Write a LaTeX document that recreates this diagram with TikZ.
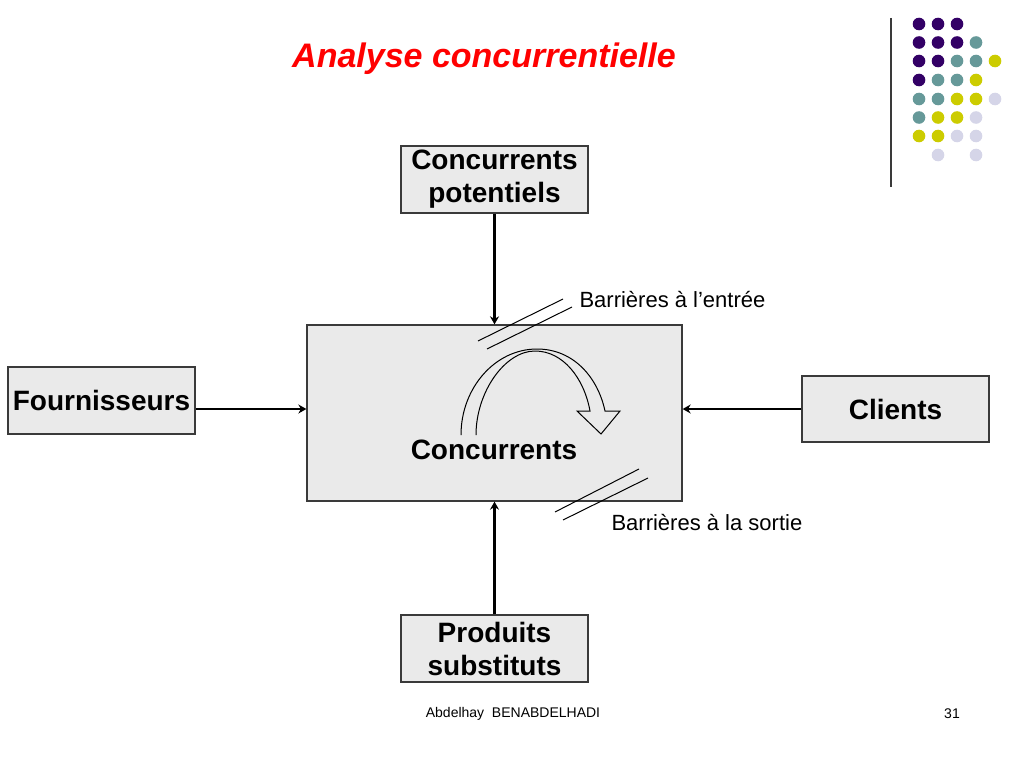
\documentclass[tikz,border=0pt]{standalone}
\usepackage{fontspec}
\setmainfont{Liberation Sans}
\usetikzlibrary{arrows.meta}

\definecolor{dotpurple}{HTML}{330066}
\definecolor{dotteal}{HTML}{669999}
\definecolor{dotyellow}{HTML}{CCCC00}
\definecolor{dotlilac}{HTML}{D5D5E8}
\definecolor{boxgray}{HTML}{EAEAEA}
\definecolor{edgegray}{HTML}{3A3A3A}

\begin{document}
\begin{tikzpicture}[x=1pt, y=-1pt, >={Stealth[length=8pt,width=9pt]},
    box/.style={draw=edgegray, fill=boxgray, line width=1.3pt,
        minimum width=187pt, minimum height=67pt, inner sep=0pt,
        align=center, font=\fontsize{28}{33}\selectfont\bfseries},
    flow/.style={->, line width=2.8pt},
    barrier/.style={line width=1pt}]

    % Page frame
    \useasboundingbox (0,0) rectangle (1024,768);

    % Title
    \node[text=red, font=\fontsize{34}{40}\selectfont\bfseries\itshape] (title) at (484,59) {Analyse concurrentielle};

    % Decoration: rule and dots
    \draw[edgegray, line width=1.2pt] (891,18) -- (891,187);
    \foreach \y/\cols in {24/{dotpurple,dotpurple,dotpurple,none,none},
                          42.5/{dotpurple,dotpurple,dotpurple,dotteal,none},
                          61/{dotpurple,dotpurple,dotteal,dotteal,dotyellow},
                          80/{dotpurple,dotteal,dotteal,dotyellow,none},
                          99/{dotteal,dotteal,dotyellow,dotyellow,dotlilac},
                          117.5/{dotteal,dotyellow,dotyellow,dotlilac,none},
                          136/{dotyellow,dotyellow,dotlilac,dotlilac,none},
                          155/{none,dotlilac,none,dotlilac,none}}{
        \foreach \c [count=\i] in \cols
            \path[fill=\c] ({900+19*\i},\y) circle (6.3);
    }

    % Boxes
    \node[box] (potentiels) at (494.5,179.5) {Concurrents\\potentiels};
    \node[box, minimum width=375pt, minimum height=176pt] (secteur) at (494.5,413) {};
    \node[box] (fournisseurs) at (101.5,400.5) {Fournisseurs};
    \node[box, minimum height=66pt] (clients) at (895.5,409) {Clients};
    \node[box] (substituts) at (494.5,648.5) {Produits\\substituts};
    \node[font=\fontsize{28}{34}\selectfont\bfseries] (concurrents) at (494,450) {Concurrents};

    % Forces
    \draw[flow] (potentiels.south) -- (secteur.north);
    \draw[flow] (substituts.north) -- (secteur.south);
    \draw[flow] (fournisseurs.east |- clients.west) -- (secteur.west |- clients.west);
    \draw[flow] (clients.west) -- (secteur.east |- clients.west);

    % Rivalry arrow
    \draw[line width=1pt] (461,435) .. controls (461,388) and (495,349) .. (537,349)
        .. controls (574,349) and (598,378) .. (605,411) -- (620,411) -- (601,434)
        -- (577,411) -- (590,411) .. controls (584,378) and (563,351) .. (535,351)
        .. controls (505,351) and (476,392) .. (476,435);

    % Barriers
    \coordinate (entreeA) at (563,299);
    \coordinate (entreeB) at (572,307);
    \coordinate (sortieA) at (639,469);
    \coordinate (sortieB) at (648,478);
    \draw[barrier] (478,341) -- (entreeA);
    \draw[barrier] (487,349) -- (entreeB);
    \draw[barrier] (555,512) -- (sortieA);
    \draw[barrier] (563,520) -- (sortieB);
    \node[anchor=west, font=\fontsize{22}{26}\selectfont] (entree) at (576,300) {Barrières à l’entrée};
    \node[anchor=west, font=\fontsize{22}{26}\selectfont] (sortie) at (608,522) {Barrières à la sortie};

    % Footer
    \node[font=\fontsize{14}{17}\selectfont] (auteur) at (513,714) {Abdelhay\ \ BENABDELHADI};
    \node[font=\fontsize{14}{17}\selectfont] (page) at (952,714) {31};
\end{tikzpicture}
\end{document}
